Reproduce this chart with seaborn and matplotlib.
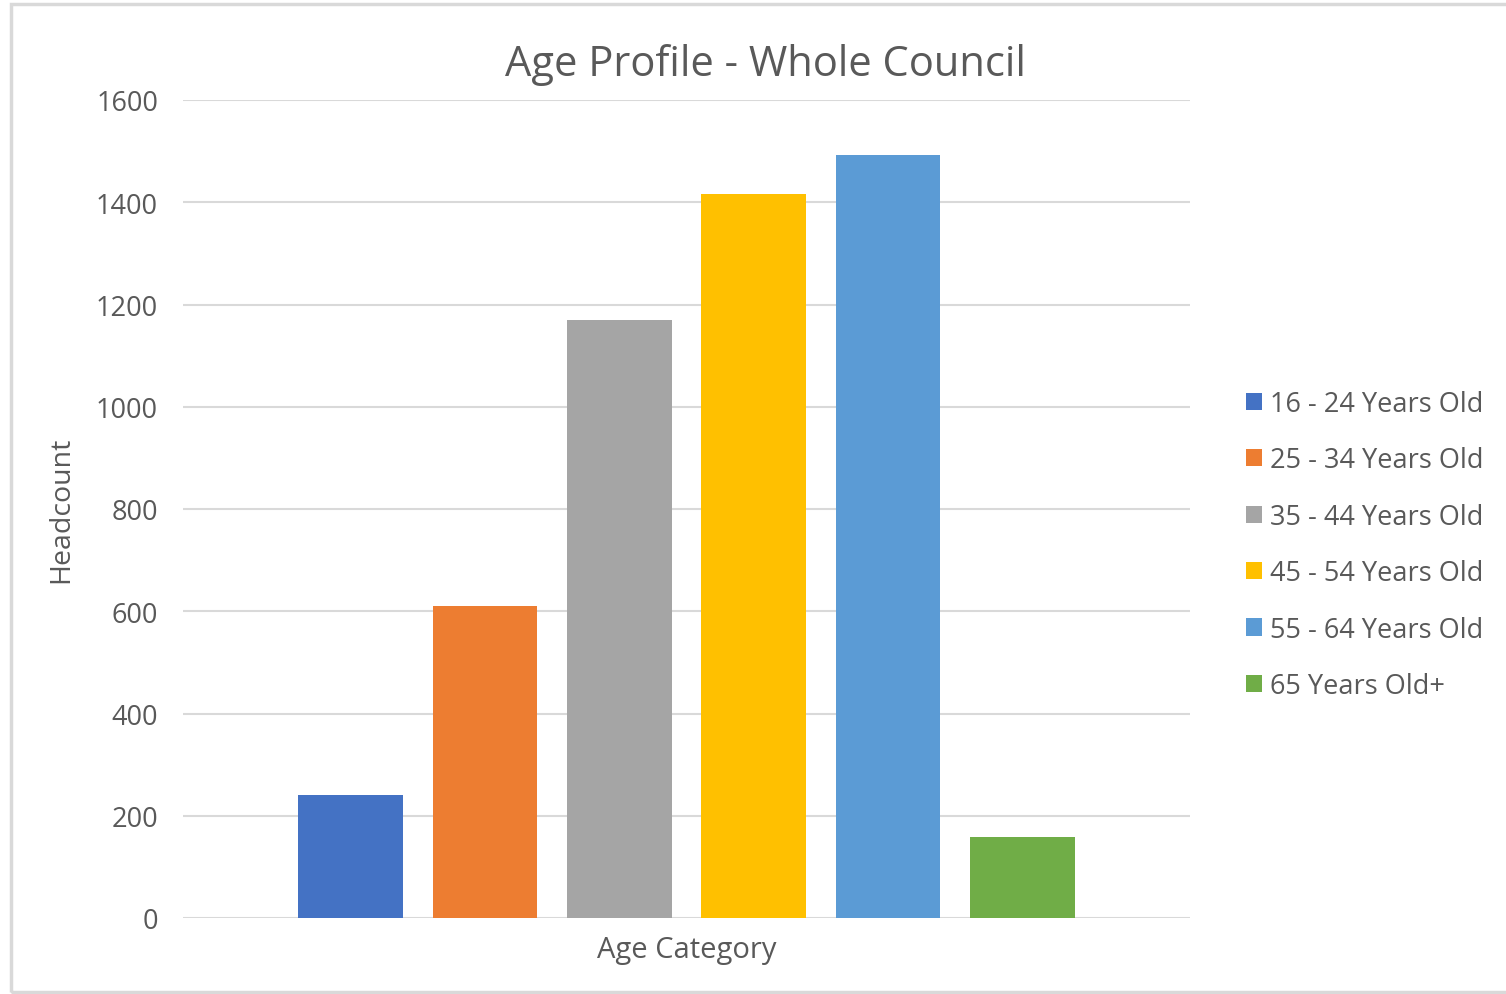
import matplotlib
matplotlib.use("Agg")
import matplotlib.pyplot as plt
import seaborn as sns
import pandas as pd
from matplotlib.patches import Rectangle, Patch

categories = ["16 - 24 Years Old", "25 - 34 Years Old", "35 - 44 Years Old",
              "45 - 54 Years Old", "55 - 64 Years Old", "65 Years Old+"]
headcount = [241, 610, 1170, 1416, 1492, 158]
colors = ["#4472C4", "#ED7D31", "#A5A5A5", "#FFC000", "#5B9BD5", "#70AD47"]
group = [""] * len(categories)

df = pd.DataFrame({"group": group, "Age": categories, "Headcount": headcount})

sns.set_theme(style="white")
plt.rcParams['font.family'] = ['Open Sans', 'DejaVu Sans']
text_color = "#595959"

fig = plt.figure(figsize=(15.06, 9.95), dpi=100)
ax = fig.add_axes([183/1506, 1 - 919/995, (1190-183)/1506, (919-101)/995])

sns.barplot(data=df, x="group", y="Headcount", hue="Age", palette=colors,
            hue_order=categories, width=0.8, gap=0.22, ax=ax, legend=False,
            saturation=1, edgecolor="none")

ax.set_ylim(0, 1600)
ax.set_xlim(-0.5, 0.5)
ax.set_yticks(range(0, 1601, 200))
ax.yaxis.grid(True, color="#D9D9D9", linewidth=1.5)
ax.set_axisbelow(True)
for s in ax.spines.values():
    s.set_visible(False)
ax.tick_params(axis="y", length=0, pad=18, labelsize=19.5, labelcolor=text_color)
ax.tick_params(axis="x", length=0, labelbottom=False)
ax.set_xlabel("Age Category", fontsize=21, color=text_color)
ax.xaxis.set_label_coords(0.5, -0.021, transform=ax.transAxes)
ax.xaxis.label.set_verticalalignment("top")
ax.set_ylabel("Headcount", fontsize=20.5, color=text_color)
ax.yaxis.set_label_coords(-0.107, 0.5)

fig.text(765/1506, 1 - 65/995, "Age Profile - Whole Council", fontsize=30,
         color=text_color, ha="center", va="center")

handles = [Patch(facecolor=c, edgecolor="none") for c in colors]
fig.legend(handles, categories, loc="upper left", bbox_to_anchor=(1235/1506, 1 - 380/995),
           frameon=False, fontsize=19.5, labelcolor=text_color, handlelength=0.6,
           handleheight=0.6, handletextpad=0.3, labelspacing=1.05, borderaxespad=0)

fig.patches.append(Rectangle((11/1506, 1 - 993/995), 1 - 11/1506 + 0.01, (993-5)/995,
                             transform=fig.transFigure, fill=False,
                             edgecolor="#D9D9D9", linewidth=2.5, figure=fig))

fig.savefig("out.png", dpi=100, facecolor="white")
